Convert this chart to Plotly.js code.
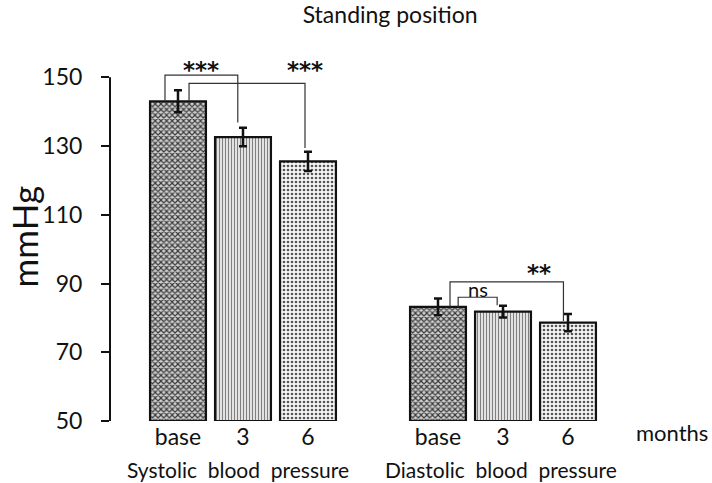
<!DOCTYPE html>
<html>
<head>
<meta charset="utf-8">
<script src="https://cdn.plot.ly/plotly-3.0.1.min.js"></script>
<style>html,body{margin:0;padding:0;background:#fff;}#chart{width:712px;height:483px;}</style>
</head>
<body>
<div id="chart"></div>
<script>
// ---- data ----
const groupLabels = ['Systolic\u00a0\u00a0blood\u00a0\u00a0pressure', 'Diastolic\u00a0\u00a0blood\u00a0\u00a0pressure'];
const timepoints = ['base', '3', '6'];
const systolic = [143.0, 132.6, 125.5];
const systolicErr = [3.2, 2.7, 2.8];
const diastolic = [83.2, 81.8, 78.6];
const diastolicErr = [2.4, 1.7, 2.5];
const sysPos = [0, 1, 2];
const diaPos = [4, 5, 6];
const baseline = 50;
const yTicks = [50, 70, 90, 110, 130, 150];

// significance brackets: [xLeft, yLeftStart, yTop, xRight, yRightEnd]
const brackets = [
  [-0.20, systolic[0], 150.6, 0.92, 136.8],
  [0.17, systolic[0], 148.2, 1.954, 129.4],
  [4.31, diastolic[0], 86.0, 4.91, 83.7],
  [4.185, diastolic[0], 90.5, 5.93, 79.1]
];
const sigLabels = ['***', '***', 'ns', '**'];
const sigX = [0.36, 1.954, 4.62, 5.56];
const sigY = [152.2, 152.2, 88.3, 93.0];

// ---- styles ----
const patterns = [
  {shape: 'x', size: 4, solidity: 0.5, fgcolor: '#3a3a3a', bgcolor: '#d0d0d0', fillmode: 'replace'},
  {shape: '|', size: 3, solidity: 0.35, fgcolor: '#808080', bgcolor: '#e2e2e2', fillmode: 'replace'},
  {shape: '.', size: 4, solidity: 0.35, fgcolor: '#555', bgcolor: '#f6f6f6', fillmode: 'replace'}
];

const traces = timepoints.map((t, i) => ({
  type: 'bar',
  name: t,
  x: [sysPos[i], diaPos[i]],
  y: [systolic[i] - baseline, diastolic[i] - baseline],
  base: baseline,
  width: 0.86,
  marker: {color: patterns[i].bgcolor, pattern: patterns[i], line: {color: '#111', width: 2.2}},
  error_y: {type: 'data', array: [systolicErr[i], diastolicErr[i]], visible: true, color: '#111', thickness: 2.5, width: 4},
  hoverinfo: 'skip'
}));

const shapes = [
  {type: 'line', xref: 'paper', yref: 'y', x0: 0, x1: 0, y0: yTicks[0], y1: yTicks[yTicks.length - 1], line: {color: '#111', width: 2}}
].concat(brackets.map(b => ({
  type: 'path', xref: 'x', yref: 'y',
  path: `M ${b[0]},${b[1]} L ${b[0]},${b[2]} L ${b[3]},${b[2]} L ${b[3]},${b[4]}`,
  line: {color: '#333', width: 1.2}
})));

const annotations = sigLabels.map((s, i) => ({
  x: sigX[i], y: sigY[i], xref: 'x', yref: 'y', text: s, showarrow: false,
  font: s === 'ns' ? {size: 20, color: '#111', family: 'Lato'} : {size: 23, color: '#111', family: 'DejaVu Sans', weight: 'bold'},
  xanchor: 'center', yanchor: 'middle'
})).concat([
  {x: sysPos[1], xshift: -5, y: -0.127, xref: 'x', yref: 'paper', text: groupLabels[0], showarrow: false, font: {size: 21, color: '#111'}, xanchor: 'center', yanchor: 'middle'},
  {x: diaPos[1], xshift: -2, y: -0.127, xref: 'x', yref: 'paper', text: groupLabels[1], showarrow: false, font: {size: 21, color: '#111'}, xanchor: 'center', yanchor: 'middle'},
  {x: 1.049, y: -0.031, xref: 'paper', yref: 'paper', text: 'months', showarrow: false, font: {size: 22, color: '#111'}, xanchor: 'center', yanchor: 'middle'},
  {x: -0.16, y: 0.48, xref: 'paper', yref: 'paper', text: 'mmHg', textangle: -90, showarrow: false, font: {size: 35, color: '#111'}, xanchor: 'center', yanchor: 'middle'}
]);

const layout = {
  width: 712, height: 483,
  margin: {l: 110, r: 66, t: 36, b: 62},
  paper_bgcolor: '#fff', plot_bgcolor: '#fff',
  font: {family: 'Lato, "Open Sans", sans-serif', color: '#111'},
  title: {text: 'Standing position', x: 0.548, xanchor: 'center', y: 0.97, yanchor: 'middle', font: {size: 23, color: '#111'}},
  showlegend: false,
  barmode: 'overlay',
  xaxis: {
    range: [-1.046, 7.2], tickvals: sysPos.concat(diaPos), ticktext: timepoints.concat(timepoints),
    showline: false, zeroline: false, showgrid: false, ticks: '', tickfont: {size: 23, color: '#111'}
  },
  yaxis: {
    range: [50, 162], tickvals: yTicks, ticktext: yTicks.map(String),
    showline: false, zeroline: false, showgrid: false, ticks: 'outside', ticklen: 8, tickwidth: 2, tickcolor: '#111',
    tickfont: {size: 23, color: '#111'}, ticklabelstandoff: 14
  },
  shapes: shapes,
  annotations: annotations
};

Plotly.newPlot('chart', traces, layout, {staticPlot: true, displayModeBar: false});
</script>
</body>
</html>
